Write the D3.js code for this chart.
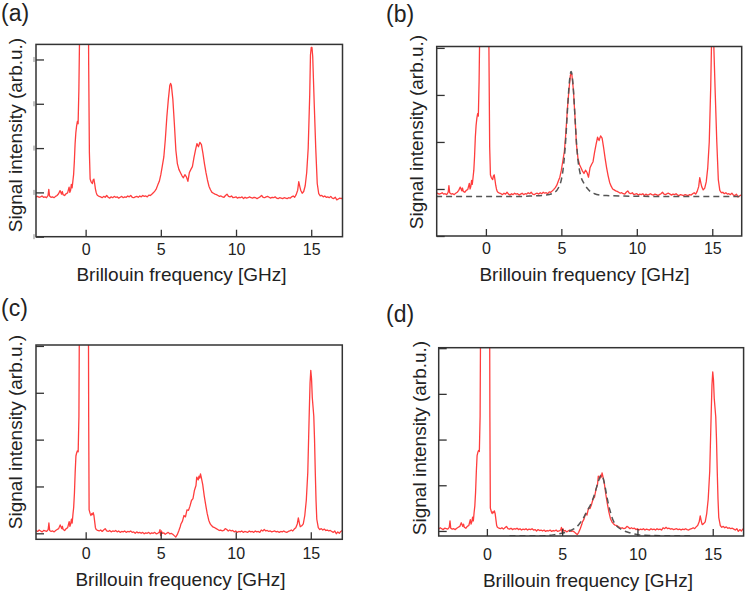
<!DOCTYPE html>
<html>
<head>
<meta charset="utf-8">
<script src="https://cdn.jsdelivr.net/npm/d3@7"></script>
<style>
  html, body { margin: 0; padding: 0; background: #fff; }
  svg { display: block; }
  text { font-family: "Liberation Sans", Arial, sans-serif; fill: #222; }
</style>
</head>
<body>
<svg id="chart" width="746" height="592"></svg>
<script>
// ---------- data ----------
const panelLabels = ["(a)", "(b)", "(c)", "(d)"];
const xTitle = "Brillouin frequency [GHz]";
const yTitle = "Signal intensity (arb.u.)";
const xTicks = [0, 5, 10, 15];
const yTicks = [0, 1, 2, 3, 4];

// raw spectrum, panels (a) and (b)
const rawFreq = [
  -3.3,-3.2,-3.1,-3.0,-2.9,-2.8,-2.7,-2.6,-2.5,-2.45,-2.4,-2.3,-2.2,-2.1,-2.0,-1.9,-1.8,-1.7,-1.6,-1.55,-1.5,-1.4,-1.3,-1.2,-1.1,-1.05,-1.0,-0.95,-0.9,
  -0.85,-0.8,-0.75,-0.7,-0.65,-0.6,-0.55,-0.5,-0.45,-0.4,-0.35,
  0.15,0.2,0.25,0.3,0.35,0.4,0.45,0.5,0.55,0.6,0.65,0.7,0.75,0.8,0.9,
  1.0,1.1,1.2,1.3,1.4,1.5,1.6,1.7,1.8,1.9,2.0,2.1,2.2,2.3,2.4,2.5,2.6,2.7,2.8,2.9,3.0,3.1,3.2,3.3,3.4,3.5,3.6,3.7,3.8,3.9,
  4.0,4.1,4.2,4.3,4.4,4.5,4.6,4.7,4.8,4.9,5.0,5.1,5.2,5.3,5.4,5.5,5.6,5.65,5.7,5.8,5.9,6.0,6.1,6.2,6.3,6.4,6.5,6.6,6.7,6.8,6.9,
  7.0,7.1,7.2,7.3,7.4,7.5,7.6,7.7,7.8,7.9,8.0,8.1,8.2,8.3,8.4,8.5,8.6,8.7,8.8,8.9,9.0,9.1,9.2,9.3,9.4,9.5,9.6,9.7,9.8,9.9,
  10.0,10.1,10.2,10.3,10.4,10.5,10.6,10.7,10.8,10.9,11.0,11.1,11.2,11.3,11.4,11.5,11.6,11.7,11.8,11.9,12.0,12.1,12.2,12.3,12.4,12.5,12.6,12.7,12.8,12.9,
  13.0,13.1,13.2,13.3,13.4,13.5,13.6,13.7,13.8,13.9,14.0,14.1,14.17,14.25,14.3,14.4,14.5,14.6,14.7,14.8,14.9,14.95,15.0,15.05,15.1,15.2,15.3,15.35,15.4,15.5,
  15.6,15.7,15.8,15.9,16.0,16.1,16.2,16.3,16.4,16.5,16.6,16.7,16.8,16.9,17.0,17.1
];
const rawIntensity = [
  0.90,0.91,0.89,0.90,0.92,0.89,0.90,0.88,0.93,1.07,0.92,0.89,0.90,0.88,0.91,0.93,0.97,1.04,0.96,1.02,0.95,0.93,0.97,0.99,1.12,1.00,1.05,1.18,1.10,
  1.25,1.40,1.70,2.10,2.35,2.50,2.60,2.55,3.30,4.60,9.00,
  9.00,4.00,1.90,1.30,1.25,1.22,1.20,1.28,1.30,1.20,1.08,1.00,0.95,0.93,0.91,
  0.90,0.88,0.91,0.89,0.93,0.89,0.87,0.90,0.88,0.91,0.89,0.90,0.87,0.89,0.91,0.88,0.90,0.89,0.92,0.90,0.93,0.89,0.88,0.90,0.91,0.89,0.92,0.90,0.93,0.91,
  0.92,0.90,0.94,0.93,0.96,0.99,1.03,1.08,1.17,1.25,1.40,1.60,1.80,2.20,2.70,3.10,3.42,3.46,3.42,3.10,2.55,1.95,1.65,1.52,1.45,1.38,1.33,1.40,1.35,1.25,1.45,
  1.52,1.58,1.78,1.95,2.10,2.03,2.13,2.08,1.88,1.65,1.45,1.28,1.14,1.06,1.00,0.98,0.96,0.95,0.93,0.91,0.92,0.90,0.89,0.93,0.96,0.91,0.90,0.92,0.88,0.89,
  0.90,0.87,0.89,0.88,0.90,0.86,0.89,0.87,0.88,0.90,0.88,0.87,0.89,0.88,0.86,0.88,0.90,0.93,0.89,0.88,0.90,0.91,0.89,0.87,0.89,0.88,0.90,0.87,0.86,0.88,
  0.87,0.86,0.88,0.87,0.86,0.88,0.87,0.90,0.92,0.89,0.95,1.05,1.24,1.12,1.05,0.98,1.02,1.15,1.45,2.00,3.20,4.10,4.27,4.27,4.06,3.00,2.00,1.60,1.20,0.97,
  0.92,0.93,0.90,0.92,0.89,0.90,0.88,0.91,0.87,0.86,0.89,0.83,0.85,0.87,0.86,0.88
];

// fitted peak (dashed) in panel (b)
const fitBFreq = [-3.3,2.0,3.0,4.0,4.5,4.8,5.0,5.1,5.2,5.3,5.4,5.5,5.6,5.65,5.7,5.8,5.9,6.0,6.1,6.2,6.3,6.5,6.7,6.9,7.2,7.6,8.0,9.0,12.0,17.1];
const fitBValue = [0.84,0.84,0.85,0.87,0.92,1.02,1.20,1.38,1.68,2.10,2.65,3.15,3.46,3.50,3.45,3.10,2.55,2.00,1.62,1.40,1.26,1.12,1.02,0.95,0.90,0.87,0.86,0.85,0.84,0.84];

// processed spectrum, panels (c) and (d)
const procFreq = [
  -3.3,-3.2,-3.1,-3.0,-2.9,-2.8,-2.7,-2.6,-2.5,-2.45,-2.4,-2.3,-2.2,-2.1,-2.0,-1.9,-1.8,-1.7,-1.6,-1.55,-1.5,-1.4,-1.3,-1.2,-1.1,-1.05,-1.0,-0.95,-0.9,
  -0.85,-0.8,-0.75,-0.7,-0.65,-0.6,-0.55,-0.5,-0.45,-0.42,-0.38,
  0.15,0.2,0.23,0.3,0.35,0.4,0.45,0.5,0.55,0.6,0.65,0.7,0.8,0.9,
  1.0,1.1,1.2,1.3,1.4,1.5,1.6,1.7,1.8,1.9,2.0,2.1,2.2,2.3,2.4,2.5,2.6,2.7,2.8,2.9,3.0,3.1,3.2,3.3,3.4,3.5,3.6,3.7,3.8,3.9,
  4.0,4.1,4.2,4.3,4.4,4.5,4.6,4.7,4.8,4.9,4.95,5.0,5.05,5.1,5.2,5.3,5.4,5.5,5.6,5.7,5.8,5.9,6.0,6.1,6.2,6.3,6.35,6.45,6.55,6.65,6.75,6.85,6.95,
  7.05,7.15,7.25,7.35,7.4,7.5,7.55,7.6,7.65,7.7,7.8,7.9,8.0,8.1,8.2,8.3,8.4,8.5,8.6,8.7,8.8,8.9,9.0,9.1,9.2,9.3,9.4,9.5,9.6,9.7,9.8,9.9,
  10.0,10.1,10.2,10.3,10.4,10.5,10.6,10.7,10.8,10.9,11.0,11.1,11.2,11.3,11.4,11.5,11.6,11.7,11.8,11.9,12.0,12.1,12.2,12.3,12.4,12.5,12.6,12.7,12.8,12.9,
  13.0,13.1,13.2,13.3,13.4,13.5,13.6,13.7,13.8,13.9,14.0,14.1,14.17,14.25,14.3,14.4,14.5,14.6,14.7,14.8,14.9,14.95,15.0,15.05,15.1,15.2,15.25,15.3,15.35,15.4,15.5,
  15.6,15.7,15.8,15.9,16.0,16.1,16.2,16.3,16.4,16.5,16.6,16.7,16.8,16.9,17.0,17.1
];
const procIntensity = [
  0.06,0.04,0.07,0.05,0.03,0.06,0.05,0.04,0.08,0.22,0.06,0.04,0.05,0.03,0.06,0.08,0.10,0.18,0.10,0.15,0.08,0.06,0.10,0.12,0.25,0.15,0.20,0.30,0.22,
  0.40,0.55,0.85,1.30,1.65,1.72,1.76,1.74,2.50,4.50,9.00,
  9.00,2.50,0.50,0.42,0.38,0.42,0.40,0.44,0.38,0.25,0.12,0.08,0.06,0.05,
  0.07,0.04,0.07,0.10,0.05,0.04,0.06,0.03,0.05,0.04,0.06,0.03,0.05,0.02,0.04,0.03,0.05,0.02,0.04,0.03,0.05,0.02,0.03,0.00,0.03,0.01,0.02,0.00,0.02,-0.01,
  0.01,0.00,0.02,-0.01,0.01,0.00,0.02,-0.01,0.00,0.02,0.08,-0.05,0.05,0.00,0.01,-0.02,0.00,0.02,-0.01,0.00,-0.02,-0.05,-0.08,-0.03,0.05,0.14,0.20,0.26,0.38,0.35,0.50,0.49,0.58,
  0.70,0.74,0.92,1.02,1.20,1.14,1.22,1.18,1.27,1.20,1.04,0.80,0.60,0.42,0.28,0.20,0.16,0.13,0.12,0.10,0.08,0.06,0.07,0.05,0.06,0.10,0.08,0.05,0.07,0.05,0.06,0.03,
  0.05,0.02,0.04,0.03,0.05,0.02,0.04,0.03,0.02,0.05,0.03,0.04,0.02,0.05,0.03,0.04,0.02,0.07,0.05,0.08,0.05,0.06,0.04,0.05,0.03,0.04,0.05,0.03,0.04,0.02,
  0.04,0.03,0.05,0.03,0.02,0.04,0.05,0.07,0.05,0.09,0.12,0.20,0.33,0.20,0.14,0.16,0.20,0.38,0.70,1.30,2.60,3.20,3.48,3.30,2.90,2.50,2.00,1.30,0.70,0.30,0.12,
  0.08,0.10,0.07,0.09,0.06,0.07,0.05,0.06,0.04,0.02,0.05,-0.01,0.03,0.00,0.04,0.06
];

// fitted peak (dashed) in panel (d)
const fitDFreq = [1.5,3.0,4.0,4.5,5.0,5.5,5.8,6.0,6.2,6.4,6.6,6.8,7.0,7.2,7.4,7.5,7.6,7.7,7.8,7.9,8.0,8.2,8.4,8.6,8.8,9.0,9.5,10.0,11.0,12.0,13.5];
const fitDValue = [-0.11,-0.11,-0.10,-0.08,-0.05,0.00,0.05,0.10,0.18,0.28,0.40,0.52,0.66,0.86,1.08,1.17,1.22,1.18,1.05,0.88,0.70,0.42,0.22,0.12,0.06,0.02,-0.04,-0.08,-0.10,-0.11,-0.11];

// ---------- layout ----------
const panels = [
  { label: 0, lx: 1, ly: 21, box: [36, 342.5, 44.4, 236.7], xd: [-3.3, 17.08], yd: [0, 4.34],
    freq: rawFreq, val: rawIntensity, fitF: null, fitV: null, tickPad: 7, xtx: 181.5, xty: 281, ytx: 22, yty: 135, marks: true },
  { label: 1, lx: 386, ly: 22, box: [436.7, 741.7, 46.5, 236], xd: [-3.26, 16.95], yd: [0, 4.03],
    freq: rawFreq, val: rawIntensity, fitF: fitBFreq, fitV: fitBValue, tickPad: 7, xtx: 584.5, xty: 281, ytx: 423, yty: 132, marks: false },
  { label: 2, lx: 1, ly: 316, box: [36, 342.3, 345, 539.3], xd: [-3.31, 17.1], yd: [-0.128, 4.02],
    freq: procFreq, val: procIntensity, fitF: null, fitV: null, tickPad: 8, xtx: 180.5, xty: 586, ytx: 22, yty: 432, marks: false },
  { label: 3, lx: 386, ly: 322, box: [438.7, 743.6, 347.7, 536], xd: [-3.2, 17.05], yd: [-0.11, 4.01],
    freq: procFreq, val: procIntensity, fitF: fitDFreq, fitV: fitDValue, tickPad: 13, xtx: 588, xty: 586.5, ytx: 426, yty: 438, marks: false }
];

const svg = d3.select("#chart");
const defs = svg.append("defs");

panels.forEach((p, i) => {
  const [L, R, T, B] = p.box;
  const x = d3.scaleLinear().domain(p.xd).range([L, R]);
  const y = d3.scaleLinear().domain(p.yd).range([B, T]);
  const g = svg.append("g");

  defs.append("clipPath").attr("id", "clip" + i)
    .append("rect").attr("x", L).attr("y", T).attr("width", R - L).attr("height", B - T);

  // panel label
  g.append("text").attr("x", p.lx).attr("y", p.ly)
    .style("font-size", "23px").text(panelLabels[p.label]);

  // data
  const line = d3.line().x(d => x(d[0])).y(d => y(d[1]));
  const plot = g.append("g").attr("clip-path", `url(#clip${i})`);

  const pts = p.freq.map((f, k) => [f, p.val[k]]);
  plot.append("path").datum(pts)
    .attr("d", line)
    .attr("fill", "none")
    .attr("stroke", "#ff2828")
    .attr("stroke-width", 1.3)
    .attr("stroke-linejoin", "round")
    .attr("opacity", 0.9);

  if (p.fitF) {
    const fp = p.fitF.map((f, k) => [f, p.fitV[k]]);
    plot.append("path").datum(fp)
      .attr("d", d3.line().curve(d3.curveMonotoneX).x(d => x(d[0])).y(d => y(d[1])))
      .attr("fill", "none")
      .attr("stroke", "#555")
      .attr("stroke-width", 1.5)
      .attr("stroke-dasharray", "6,4");
  }

  // axes (inward ticks)
  const xAxis = d3.axisBottom(x).tickValues(xTicks).tickSize(-7).tickPadding(p.tickPad).tickFormat(d3.format("d"));
  const xg = g.append("g").attr("transform", `translate(0,${B})`).call(xAxis);
  xg.select(".domain").remove();
  xg.selectAll(".tick line").attr("stroke", "#333").attr("stroke-width", 1.3);
  xg.selectAll(".tick text").attr("font-family", null).style("font-size", "16px").attr("fill", "#222");

  const yAxis = d3.axisLeft(y).tickValues(yTicks).tickSize(-8).tickFormat("");
  const yg = g.append("g").attr("transform", `translate(${L},0)`).call(yAxis);
  yg.select(".domain").remove();
  yg.selectAll(".tick line").attr("stroke", "#333").attr("stroke-width", 1.3);

  if (p.marks) {
    g.selectAll("line.mark").data(yTicks).enter().append("line")
      .attr("x1", L - 2).attr("x2", L - 2)
      .attr("y1", d => y(d) - 2.5).attr("y2", d => y(d) + 2.5)
      .attr("stroke", "#888").attr("stroke-width", 1);
  }

  // frame
  g.append("rect").attr("x", L).attr("y", T).attr("width", R - L).attr("height", B - T)
    .attr("fill", "none").attr("stroke", "#333").attr("stroke-width", 1.5);

  // titles
  g.append("text").attr("x", p.xtx).attr("y", p.xty)
    .attr("text-anchor", "middle").style("font-size", "19px").text(xTitle);
  g.append("text").attr("transform", `translate(${p.ytx},${p.yty}) rotate(-90)`)
    .attr("text-anchor", "middle").style("font-size", "19px").text(yTitle);
});
</script>
</body>
</html>
